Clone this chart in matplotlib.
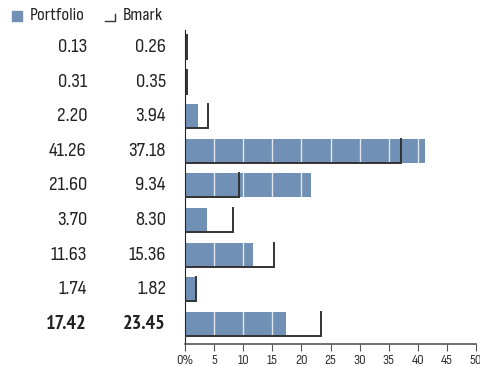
import matplotlib.pyplot as plt
import matplotlib.transforms as mtransforms
from matplotlib.lines import Line2D
from matplotlib.patches import Rectangle

port = [0.13, 0.31, 2.20, 41.26, 21.60, 3.70, 11.63, 1.74, 17.42]
bench = [0.26, 0.35, 3.94, 37.18, 9.34, 8.30, 15.36, 1.82, 23.45]
ticks = [0, 5, 10, 15, 20, 25, 30, 35, 40, 45, 50]
tick_labels = ["0%", "5", "10", "15", "20", "25", "30", "35", "40", "45", "50"]

plt.rcParams['font.family'] = ['Sofia Sans Condensed', 'DejaVu Sans']

bar_color = "#7090b5"
fig = plt.figure(figsize=(4.8, 3.66), dpi=100)
ax = fig.add_axes([185 / 480, 22 / 366, 1 - 185 / 480 - 4 / 480, 314 / 366])

h = 0.69
ys = list(range(len(port)))
ax.barh(ys, port, height=h, color=bar_color, zorder=1)

# white gridlines only visible over the bars
for t in ticks[1:]:
    ax.axvline(t, color="white", lw=1, alpha=0.8, zorder=2)

# benchmark L-shape
for y, b in zip(ys, bench):
    ax.plot([0, b, b], [y + h / 2, y + h / 2, y - h / 2], color="#333333", lw=1.4,
            zorder=3, solid_joinstyle="miter")

ax.set_xlim(0, 50)
ax.set_ylim(8.58, -0.49)
ax.set_yticks([])
ax.set_xticks(ticks)
ax.set_xticklabels(tick_labels, fontsize=10.5, color="#333333")
ax.tick_params(axis="x", direction="out", length=5, color="#555555", pad=2)
for s in ["top", "right"]:
    ax.spines[s].set_visible(False)
ax.spines["left"].set_color("#222222")
ax.spines["bottom"].set_color("#555555")
ax.spines["bottom"].set_linewidth(1.2)

trans = mtransforms.blended_transform_factory(fig.transFigure, ax.transData)
for i, (p, b) in enumerate(zip(port, bench)):
    # total row is bold; Sofia Sans Condensed has no bold face here
    if i == len(port) - 1:
        kw = dict(family=["PT Sans Narrow", "DejaVu Sans"], fontweight="bold", fontsize=14.5)
    else:
        kw = dict(fontsize=15)
    ax.text(87 / 480, i, f"{p:.2f}", transform=trans, ha="right", va="center",
            color="#222222", **kw)
    ax.text(166 / 480, i, f"{b:.2f}", transform=trans, ha="right", va="center",
            color="#222222", **kw)

# legend
fig.patches.append(Rectangle((12 / 480, 1 - 21 / 366), 10 / 480, 10 / 366,
                             transform=fig.transFigure, color=bar_color))
fig.text(30 / 480, 1 - 15 / 366, "Portfolio", fontsize=13.5, va="center", color="#222222")
fig.lines.append(Line2D([105 / 480, 115 / 480, 115 / 480],
                        [1 - 21 / 366, 1 - 21 / 366, 1 - 14 / 366],
                        transform=fig.transFigure, color="#333333", lw=1))
fig.text(123 / 480, 1 - 15 / 366, "Bmark", fontsize=13.5, va="center", color="#222222")

fig.savefig("out.png", dpi=100)
